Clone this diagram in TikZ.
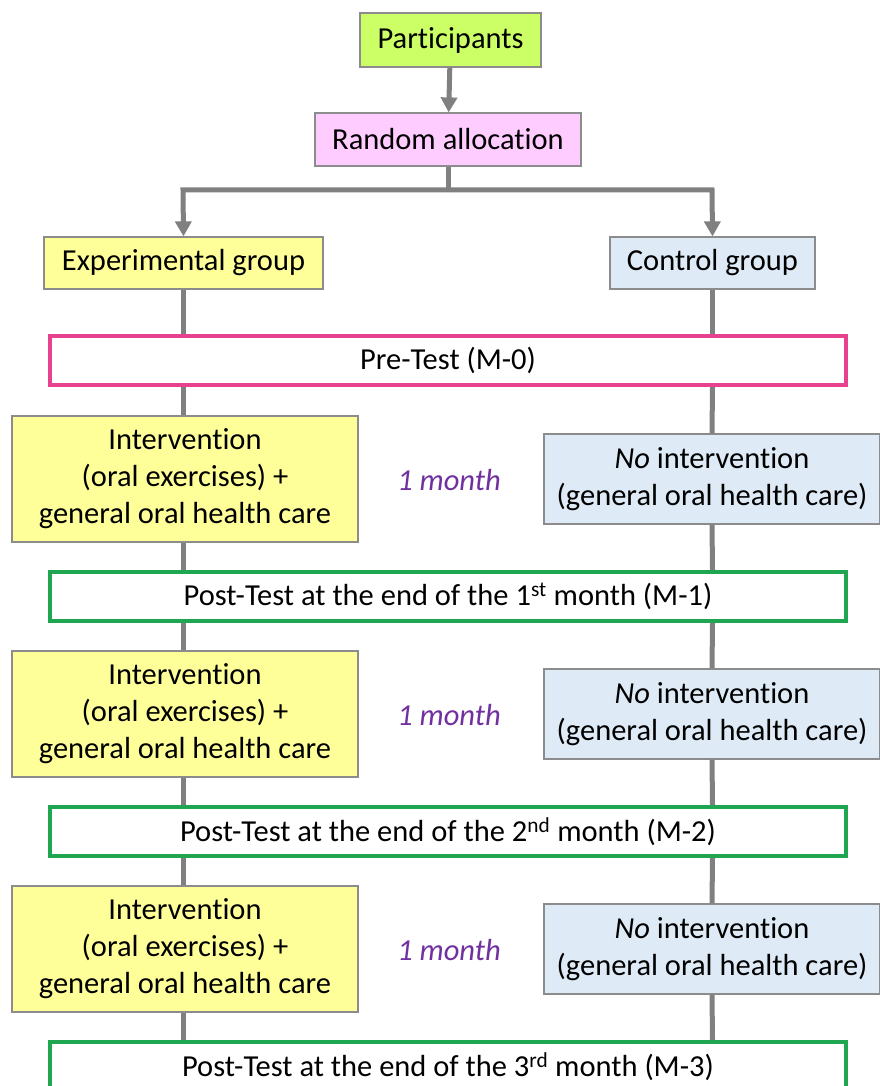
\documentclass[tikz,border=0pt]{standalone}
\usepackage{fontspec}
\setmainfont{Carlito}[Ligatures=NoCommon]
\usetikzlibrary{arrows.meta}
\definecolor{lime}{HTML}{CCFF66}
\definecolor{pinkfill}{HTML}{FFCCFF}
\definecolor{yel}{HTML}{FFFF99}
\definecolor{lblue}{HTML}{DEEBF7}
\definecolor{bord}{HTML}{8C8C8C}
\definecolor{conn}{HTML}{808080}
\definecolor{pretest}{HTML}{E8418E}
\definecolor{posttest}{HTML}{1EA650}
\definecolor{purp}{HTML}{7030A0}
\tikzset{
  txt/.style={font=\fontsize{30.5}{37}\selectfont},
  box/.style={txt, draw=bord, line width=1.2pt, inner sep=0pt, align=center},
  testbox/.style={txt, draw, fill=white, line width=4pt, inner sep=0pt, align=center,
    minimum width=796pt, minimum height=49pt},
  intbox/.style={box, fill=yel, minimum width=346pt, minimum height=126pt},
  nobox/.style={box, fill=lblue, minimum width=336pt, minimum height=90pt},
  month/.style={txt, text=purp, inner sep=0pt, font=\fontsize{30.5}{37}\selectfont\itshape},
  conline/.style={draw=conn, line width=5pt},
  arr/.style={conline, -{Triangle[width=16pt,length=15pt]}}
}
\begin{document}
\begin{tikzpicture}[x=1pt,y=-1pt]
\useasboundingbox (0,0) rectangle (880,1086);
\clip (0,0) rectangle (880,1086);
% nodes
\node[box, fill=lime, minimum width=181pt, minimum height=54pt] (part) at (450.5,40) {Participants};
\node[box, fill=pinkfill, minimum width=266pt, minimum height=53pt] (rand) at (448,139.5) {Random allocation};
\node[box, fill=yel, minimum width=279pt, minimum height=52pt] (exp) at (183.5,263) {Experimental group};
\node[box, fill=lblue, minimum width=205pt, minimum height=52pt] (ctl) at (712.5,263) {Control group};
\node[testbox, draw=pretest] (pre) at (448,360.5) {Pre-Test (M-0)};
\node[intbox] (int1) at (185,479) {Intervention\\(oral exercises) +\\general oral health care};
\node[nobox] (no1) at (712,479) {\textit{No} intervention\\(general oral health care)};
\node[month] (m1) at (449,480) {1 month};
\node[testbox, draw=posttest] (post1) at (448,596.5) {Post-Test at the end of the 1\textsuperscript{st} month (M-1)};
\node[intbox] (int2) at (185,714) {Intervention\\(oral exercises) +\\general oral health care};
\node[nobox] (no2) at (712,714) {\textit{No} intervention\\(general oral health care)};
\node[month] (m2) at (449,715) {1 month};
\node[testbox, draw=posttest] (post2) at (448,831.5) {Post-Test at the end of the 2\textsuperscript{nd} month (M-2)};
\node[intbox] (int3) at (185,949) {Intervention\\(oral exercises) +\\general oral health care};
\node[nobox] (no3) at (712,949) {\textit{No} intervention\\(general oral health care)};
\node[month] (m3) at (449,950) {1 month};
\node[testbox, draw=posttest] (post3) at (448,1066.5) {Post-Test at the end of the 3\textsuperscript{rd} month (M-3)};
% connectors
\draw[arr] (part) -- (rand);
\coordinate (hl) at (183,190);
\coordinate (hr) at (712,190);
\draw[conline] (rand.south) -- (rand.south |- hl);
\draw[arr] (rand.south |- hl) -- (hl) -- (exp.north);
\draw[arr] (rand.south |- hr) -- (hr) -- (ctl.north);
% left column
\draw[conline] (exp.south) -- (exp.south |- pre.north);
\draw[conline] (exp.south |- pre.south) -- (exp.south |- int1.north);
\draw[conline] (exp.south |- int1.south) -- (exp.south |- post1.north);
\draw[conline] (exp.south |- post1.south) -- (exp.south |- int2.north);
\draw[conline] (exp.south |- int2.south) -- (exp.south |- post2.north);
\draw[conline] (exp.south |- post2.south) -- (exp.south |- int3.north);
\draw[conline] (exp.south |- int3.south) -- (exp.south |- post3.north);
% right column
\draw[conline] (ctl.south) -- (ctl.south |- pre.north);
\draw[conline] (ctl.south |- pre.south) -- (no1.north);
\draw[conline] (no1.south) -- (ctl.south |- post1.north);
\draw[conline] (ctl.south |- post1.south) -- (no2.north);
\draw[conline] (no2.south) -- (ctl.south |- post2.north);
\draw[conline] (ctl.south |- post2.south) -- (no3.north);
\draw[conline] (no3.south) -- (ctl.south |- post3.north);
\end{tikzpicture}
\end{document}
